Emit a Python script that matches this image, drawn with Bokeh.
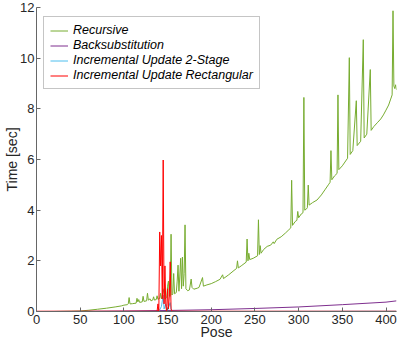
from bokeh.plotting import figure
from bokeh.models import Range1d, FixedTicker
from bokeh.embed import file_html
from bokeh.resources import INLINE

# ---- data ----
x_ticks = [0, 50, 100, 150, 200, 250, 300, 350, 400]
y_ticks = [0, 2, 4, 6, 8, 10, 12]

recursive_pose = [0, 10, 20, 30, 40, 50, 60, 70, 80, 90, 97, 100, 104, 105, 106, 107, 110, 114, 115, 116,
                  117, 118, 121, 122, 123, 126, 127, 128, 130, 131, 133, 134, 135, 137, 138, 139, 141, 142,
                  143, 146, 147, 149, 150, 151, 152, 153, 154, 155, 156, 157, 158, 160, 161, 162, 163, 164,
                  165, 166, 167, 168, 169, 170, 171, 173, 175, 177, 178, 180, 184, 186, 190, 191, 195, 200,
                  205, 210, 213, 214, 220, 226, 229, 230, 231, 235, 240, 241, 242, 243, 244, 248, 253, 254,
                  255, 256, 257, 260, 264, 268, 271, 272, 275, 280, 285, 288, 291, 292, 293, 296, 298, 299,
                  300, 303, 305, 306, 307, 309, 310, 311, 312, 316, 321, 326, 330, 334, 336, 337, 338, 341,
                  344, 345, 346, 350, 353, 356, 358, 359, 362, 366, 367, 371, 374, 375, 378, 382, 383, 386,
                  390, 394, 397, 400, 403, 405, 407, 408, 409, 410, 411, 412]
recursive_time = [0.0, 0.0, 0.0, 0.005, 0.01, 0.02, 0.05, 0.09, 0.13, 0.18, 0.22, 0.25, 0.27, 0.3, 0.55, 0.3,
                  0.31, 0.33, 0.52, 0.38, 0.47, 0.36, 0.38, 0.6, 0.4, 0.42, 0.72, 0.45, 0.5, 0.42, 0.45, 0.58,
                  0.45, 0.47, 0.62, 0.48, 0.52, 0.72, 0.5, 0.9, 0.5, 0.55, 1.0, 1.2, 0.6, 0.6, 3.05, 0.65, 0.7,
                  1.5, 0.7, 0.75, 1.2, 1.83, 0.8, 1.4, 2.1, 0.9, 2.15, 1.0, 1.5, 3.42, 0.9, 0.82, 0.85, 1.28,
                  0.95, 0.88, 0.92, 0.95, 1.34, 1.0, 1.05, 1.1, 1.18, 1.27, 1.45, 1.3, 1.45, 1.62, 1.7, 2.0,
                  1.72, 1.82, 1.95, 2.86, 2.0, 2.3, 2.05, 2.1, 2.2, 3.62, 2.25, 2.6, 2.3, 2.45, 2.57, 2.62,
                  2.75, 2.68, 2.85, 2.95, 3.1, 3.2, 3.3, 5.18, 3.4, 3.55, 3.6, 3.95, 3.7, 3.85, 3.9, 8.45, 4.0,
                  4.05, 4.1, 4.99, 4.2, 4.3, 4.4, 4.6, 4.8, 5.0, 5.1, 6.35, 5.2, 5.35, 5.45, 8.55, 5.6, 5.75,
                  5.9, 6.05, 10.02, 6.2, 6.35, 8.32, 6.55, 6.72, 10.73, 6.85, 7.0, 9.55, 7.15, 7.3, 7.45, 7.6,
                  7.76, 7.95, 8.15, 8.35, 8.55, 11.87, 8.9, 8.8, 8.95, 8.75]

backsub_pose = [0, 50, 100, 150, 200, 250, 300, 350, 400, 412]
backsub_time = [0.0, 0.005, 0.02, 0.04, 0.07, 0.12, 0.18, 0.27, 0.37, 0.42]

twostage_pose = [0, 140, 143, 145, 146, 148, 150, 153, 154, 155, 412]
twostage_time = [0.0, 0.0, 0.2, 0.65, 0.1, 0.3, 0.05, 0.35, 0.1, 0.0, 0.01]

rect_pose = [0, 138, 139, 140, 141, 142, 143, 144, 145, 146, 147, 148, 149, 150, 151, 152, 153, 154, 155, 412]
rect_time = [0.01, 0.01, 0.3, 0.01, 3.14, 1.8, 3.0, 0.5, 5.98, 0.3, 1.8, 0.2, 0.01, 0.9, 0.1, 0.6, 1.96, 0.1,
             0.01, 0.01]

x_label = "Pose"
y_label = "Time [sec]"

FONT = "Liberation Sans"
TXT = "#262626"

p = figure(width=399, height=342, output_backend="svg", toolbar_location=None,
           x_range=Range1d(0, 412), y_range=Range1d(0, 12),
           min_border_left=36, min_border_right=3, min_border_top=7, min_border_bottom=28)
p.outline_line_color = None
p.xgrid.visible = False
p.ygrid.visible = False
p.background_fill_color = "white"
p.border_fill_color = "white"

p.line(recursive_pose, recursive_time, color="#77AC30", line_width=1, legend_label="Recursive")
p.line(backsub_pose, backsub_time, color="#7E2F8E", line_width=1, legend_label="Backsubstitution")
p.line(twostage_pose, twostage_time, color="#4DBEEE", line_width=1, legend_label="Incremental Update 2-Stage")
p.line(rect_pose, rect_time, color="#FF0000", line_width=1, legend_label="Incremental Update Rectangular")

for ax, ticks in ((p.xaxis[0], x_ticks), (p.yaxis[0], y_ticks)):
    ax.ticker = FixedTicker(ticks=ticks)
    ax.minor_tick_line_color = None
    ax.major_tick_in = 4
    ax.major_tick_out = 0
    ax.axis_line_color = "#666666"
    ax.major_tick_line_color = "#666666"
    ax.major_label_text_font = FONT
    ax.major_label_text_font_size = "13px"
    ax.major_label_text_color = TXT
    ax.axis_label_text_font = FONT
    ax.axis_label_text_font_size = "14px"
    ax.axis_label_text_font_style = "normal"
    ax.axis_label_text_color = TXT
    ax.major_label_standoff = 2

p.xaxis[0].major_label_standoff = 3
p.xaxis[0].axis_label_standoff = -3
p.yaxis[0].axis_label_standoff = -3
p.xaxis.axis_label = x_label
p.yaxis.axis_label = y_label

lg = p.legend[0]
lg.location = (7, 222)
lg.margin = 0
lg.padding = 6
lg.spacing = 1
lg.label_height = 13
lg.glyph_height = 13
lg.glyph_width = 18
lg.label_standoff = 5
lg.label_text_font = FONT
lg.label_text_font_size = "12.5px"
lg.label_text_font_style = "italic"
lg.label_text_color = "#000000"
lg.border_line_color = "#8c8c8c"
lg.border_line_width = 1
lg.background_fill_alpha = 1

open("out.html", "w").write(file_html(p, INLINE))
